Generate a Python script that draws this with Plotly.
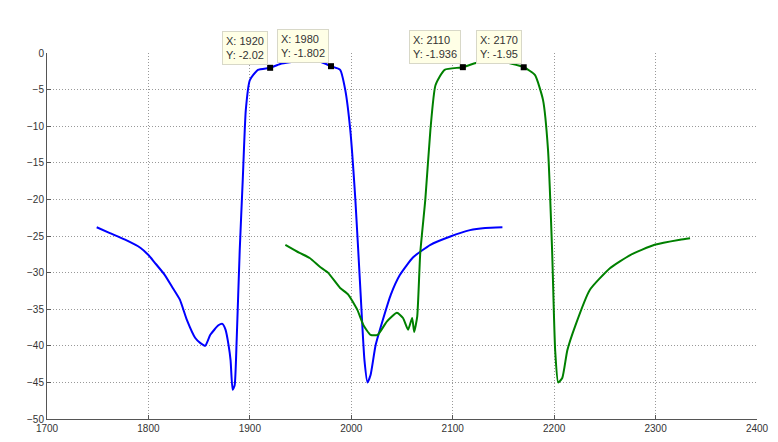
import plotly.graph_objects as go

# Blue curve (filter 1)
blue_x = [1749, 1762, 1777, 1792, 1800, 1806, 1816, 1824, 1831, 1838, 1846, 1851, 1856, 1861,
          1869, 1873, 1876, 1879, 1881, 1883, 1885, 1887, 1890, 1893, 1896, 1900, 1908, 1920,
          1930, 1949, 1969, 1980, 1989, 1994, 1999, 2004, 2009, 2013, 2016, 2019, 2024, 2031,
          2039, 2048, 2061, 2078, 2097, 2117, 2132, 2149]
blue_y = [-23.8, -24.6, -25.5, -26.6, -27.6, -28.6, -30.3, -32.1, -33.7, -36.5, -38.9, -39.6, -40.0, -38.5,
          -37.2, -37.0, -37.8, -39.9, -42.0, -46.0, -45.4, -39.2, -27.0, -17.3, -7.8, -3.7, -2.3, -2.02,
          -1.5, -1.1, -1.2, -1.802, -2.3, -5.0, -10.5, -20.0, -32.4, -42.0, -45.0, -44.0, -39.9, -36.5,
          -33.0, -30.3, -27.9, -26.2, -25.1, -24.2, -23.9, -23.8]

# Green curve (filter 2)
green_x = [1935, 1949, 1959, 1969, 1977, 1989, 1997, 2006, 2012, 2019, 2026, 2035, 2045, 2051,
           2056, 2060, 2062, 2065, 2068, 2073, 2078, 2083, 2092, 2110, 2127, 2146, 2170, 2181,
           2189, 2194, 2198, 2201, 2204, 2208, 2213, 2221, 2235, 2255, 2275, 2299, 2324, 2334]
green_y = [-26.2, -27.3, -28.0, -29.2, -30.0, -32.1, -33.0, -35.1, -37.2, -38.5, -38.5, -36.7, -35.5, -36.2,
           -37.8, -36.2, -38.1, -36.0, -27.3, -20.0, -10.5, -4.4, -2.3, -1.936, -1.2, -1.1, -1.95, -3.0,
           -6.4, -13.3, -27.0, -40.6, -45.0, -44.4, -40.6, -37.2, -32.4, -29.4, -27.6, -26.2, -25.5, -25.3]

# Data tips
tip_x = [1920, 1980, 2110, 2170]
tip_y = [-2.02, -1.802, -1.936, -1.95]

fig = go.Figure()
fig.add_trace(go.Scatter(x=blue_x, y=blue_y, mode='lines', line=dict(color='#0000ff', width=2, shape='spline', smoothing=0.5)))
fig.add_trace(go.Scatter(x=green_x, y=green_y, mode='lines', line=dict(color='#008000', width=2, shape='spline', smoothing=0.5)))
fig.add_trace(go.Scatter(x=tip_x, y=tip_y, mode='markers',
                         marker=dict(symbol='square', color='black', size=6)))

for x, y in zip(tip_x, tip_y):
    fig.add_annotation(x=x, y=y, text=f"X: {x}<br>Y: {y:g}", showarrow=False,
                       xanchor='right', yanchor='bottom', xshift=-2, yshift=3, align='left',
                       bgcolor='#ffffe6', bordercolor='#d8d8c8', borderwidth=1, borderpad=3,
                       font=dict(size=11, color='#333333', family='Liberation Sans'))

grid = dict(showgrid=True, gridcolor='#999999', griddash='1px,2px', gridwidth=1, zeroline=False,
            ticks='inside', ticklen=4, tickcolor='#555555', automargin=False,
            tickfont=dict(size=10, color='#333333', family='Liberation Sans'))
fig.update_xaxes(range=[1700, 2400], dtick=100, showline=True, linecolor='#555555', **grid)
fig.update_yaxes(range=[-50, 0], dtick=5, showline=True, linecolor='#555555', **grid)

fig.update_layout(
    width=778, height=442,
    margin=dict(l=39, r=29, t=45, b=31),
    plot_bgcolor='white', paper_bgcolor='white',
    showlegend=False,
)

fig.write_html("out.html")
